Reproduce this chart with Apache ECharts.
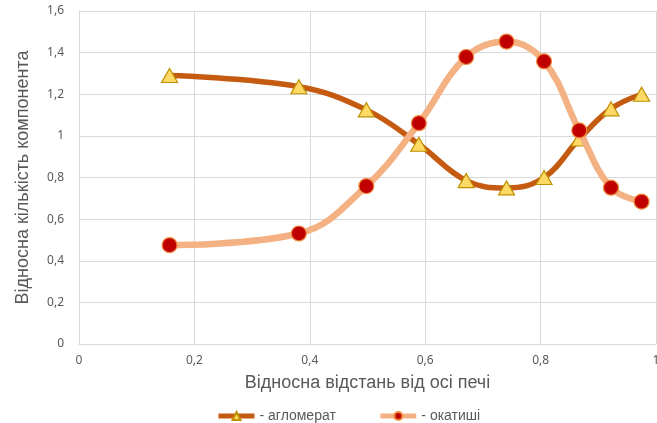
<!DOCTYPE html>
<html>
<head>
<meta charset="utf-8">
<script src="https://cdn.jsdelivr.net/npm/echarts@6/dist/echarts.min.js"></script>
<style>
  html, body { margin: 0; padding: 0; background: #fff; }
  #chart { width: 657px; height: 423px; }
</style>
</head>
<body>
<div id="chart"></div>
<script>
// Relative distance from the furnace axis (shared by both series)
const distance = [0.157, 0.381, 0.498, 0.589, 0.671, 0.741, 0.806, 0.867, 0.922, 0.975];
// Relative amount of each charge component
const agglomerate = [1.29, 1.236, 1.125, 0.96, 0.785, 0.75, 0.80, 0.985, 1.13, 1.20];
const pellets = [0.475, 0.531, 0.759, 1.061, 1.379, 1.453, 1.358, 1.026, 0.751, 0.684];

const seriesNames = ['- агломерат', '- окатиші'];
const xTitle = 'Відносна відстань від осі печі';
const yTitle = 'Відносна кількість компонента';

const FONT = '"Noto Sans", "Open Sans", sans-serif';
const TITLE_FONT = '"Liberation Sans", Arial, sans-serif';
const TEXT = '#595959';
const GRID = '#d9d9d9';

const commaNum = v => String(+v.toFixed(1)).replace('.', ',');
const pairs = ys => distance.map((x, i) => [x, ys[i]]);

const chart = echarts.init(document.getElementById('chart'), null, { renderer: 'canvas' });
chart.setOption({
  animation: false,
  backgroundColor: '#ffffff',
  textStyle: { fontFamily: FONT },
  grid: { left: 79, right: 1, top: 11, bottom: 79, containLabel: false, outerBoundsMode: 'none' },
  xAxis: {
    type: 'value', min: 0, max: 1, interval: 0.2,
    name: xTitle, nameLocation: 'middle', nameGap: 30,
    nameTextStyle: { color: TEXT, fontSize: 18, fontFamily: TITLE_FONT },
    axisLine: { show: true, lineStyle: { color: GRID, width: 1 } },
    axisTick: { show: false },
    axisLabel: { color: TEXT, fontSize: 12, margin: 11, fontFamily: FONT, formatter: commaNum },
    splitLine: { show: true, lineStyle: { color: GRID, width: 1 } }
  },
  yAxis: {
    type: 'value', min: 0, max: 1.6, interval: 0.2,
    name: yTitle, nameLocation: 'middle', nameGap: 47,
    nameTextStyle: { color: TEXT, fontSize: 18, fontFamily: TITLE_FONT },
    axisLine: { show: true, lineStyle: { color: GRID, width: 1 } },
    axisTick: { show: false },
    axisLabel: { color: TEXT, fontSize: 12, margin: 15, fontFamily: FONT, formatter: commaNum },
    splitLine: { show: true, lineStyle: { color: GRID, width: 1 } }
  },
  legend: {
    top: 404, left: 211,
    itemWidth: 36, itemHeight: 10, itemGap: 42,
    textStyle: { color: TEXT, fontSize: 14, fontFamily: TITLE_FONT },
    lineStyle: { width: 5 },
    data: seriesNames
  },
  series: [
    {
      name: seriesNames[0], type: 'line', smooth: 0.4,
      data: pairs(agglomerate),
      lineStyle: { color: '#c55a11', width: 5.5 },
      itemStyle: { color: '#ffd966', borderColor: '#bf9000', borderWidth: 1.2 },
      symbol: 'triangle', symbolSize: [16, 14], z: 2
    },
    {
      name: seriesNames[1], type: 'line', smooth: 0.4,
      data: pairs(pellets),
      lineStyle: { color: '#f4b183', width: 6.5 },
      itemStyle: { color: '#c00000', borderColor: '#f08a3c', borderWidth: 1.2 },
      symbol: 'circle', symbolSize: 15, z: 3
    }
  ]
});
</script>
</body>
</html>
